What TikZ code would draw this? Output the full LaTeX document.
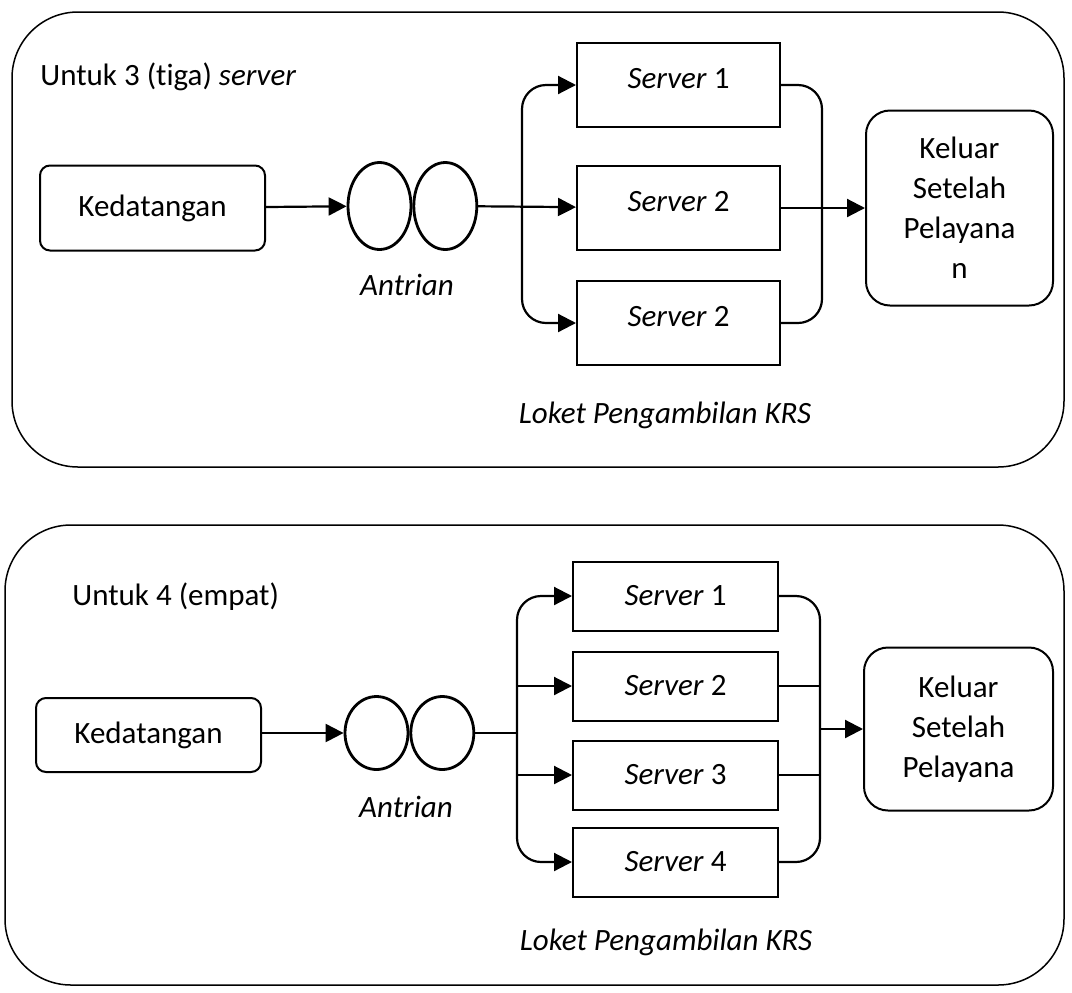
\documentclass[tikz,border=0pt]{standalone}
\usepackage{fontspec}
\setmainfont{Carlito}[Ligatures=NoCommon]
\usetikzlibrary{arrows.meta,positioning,shapes.geometric,calc}
\tikzset{
  panel/.style    = {draw, line width=0.75pt, rounded corners=33pt},
  roundbox/.style = {draw, line width=1pt, rounded corners=5pt, align=center,
                     inner sep=0pt, font=\fontsize{15.5}{20}\selectfont},
  outbox/.style   = {roundbox, rounded corners=12pt},
  srvbox/.style   = {draw, line width=1pt, inner sep=0pt,
                     font=\fontsize{15.5}{20}\selectfont},
  queue/.style    = {ellipse, draw, line width=1.4pt, inner sep=0pt,
                     minimum width=31.5pt},
  lbl/.style      = {inner sep=0pt, font=\fontsize{15.5}{20}\selectfont},
  flow/.style     = {-{Triangle[length=9pt,width=9pt]}, line width=1.1pt},
  link/.style     = {line width=1.1pt},
}

\begin{document}
\begin{tikzpicture}[x=0.5pt,y=-0.5pt]
  \useasboundingbox (0,0) rectangle (1072,992);

  % --- three servers ---
  \draw[panel] (12,12) rectangle (1064,467);
  \node[lbl,anchor=west] (t3) at (40,77) {Untuk 3 (tiga) \textit{server}};
  \node[roundbox,minimum width=112.5pt,minimum height=42.5pt] (arr3) at (152.5,208) {Kedatangan};
  \node[queue,minimum height=43.5pt] (qa3) at (379.5,206) {};
  \node[queue,minimum height=43.5pt,right=0pt of qa3] (qb3) {};
  \node[lbl] (ant3) at (407,285) {\textit{Antrian}};
  \node[srvbox,minimum width=101.5pt,minimum height=42pt,text height=10.5pt,text depth=7pt] (s1) at (678.5,85) {\textit{Server} 1};
  \node[srvbox,minimum width=101.5pt,minimum height=42pt,text height=10.5pt,text depth=7pt] (s2) at (678.5,208) {\textit{Server} 2};
  \node[srvbox,minimum width=101.5pt,minimum height=42pt,text height=10.5pt,text depth=7pt] (s3) at (678.5,323) {\textit{Server} 2};
  \node[outbox,minimum width=93.5pt,minimum height=97.5pt] (out3) at (959.5,208) {Keluar\\Setelah\\Pelayana\\n};
  \node[lbl] (loket3) at (665,415) {\textit{Loket Pengambilan KRS}};
  \coordinate (fork3) at (522,208);
  \coordinate (join3) at (822,208);

  \draw[flow] (arr3) -- (qa3);
  \draw[flow] (qb3) -- (s2);
  \draw[flow,rounded corners=12pt] (fork3) |- (s1.west);
  \draw[flow,rounded corners=12pt] (fork3) |- (s3.west);
  \draw[link,rounded corners=12pt] (s1.east) -| (join3) |- (s3.east);
  \draw[flow] (s2) -- (out3);

  % --- four servers ---
  \draw[panel] (5,525) rectangle (1064,985);
  \node[lbl,anchor=west] (t4) at (72,597) {Untuk 4 (empat)};
  \node[roundbox,minimum width=112.5pt,minimum height=37pt] (arr4) at (148.5,735) {Kedatangan};
  \node[queue,minimum height=36.5pt] (qa4) at (376.5,733) {};
  \node[queue,minimum height=36.5pt,right=0pt of qa4] (qb4) {};
  \node[lbl] (ant4) at (406,807) {\textit{Antrian}};
  \node[srvbox,minimum width=102.5pt,minimum height=34.5pt] (b1) at (675.5,596) {\textit{Server} 1};
  \node[srvbox,minimum width=102.5pt,minimum height=34.5pt] (b2) at (675.5,686) {\textit{Server} 2};
  \node[srvbox,minimum width=102.5pt,minimum height=34.5pt] (b3) at (675.5,775) {\textit{Server} 3};
  \node[srvbox,minimum width=102.5pt,minimum height=34.5pt] (b4) at (675.5,862) {\textit{Server} 4};
  \node[outbox,minimum width=94.5pt,minimum height=81.5pt] (out4) at (958.5,729) {Keluar\\Setelah\\Pelayana};
  \node[lbl] (loket4) at (666,942) {\textit{Loket Pengambilan KRS}};
  \coordinate (fork4) at (517,733);
  \coordinate (join4) at (820,729);

  \draw[flow] (arr4.east|-qa4) -- (qa4);
  \draw[link] (qb4) -- (fork4);
  \draw[flow,rounded corners=12pt] (fork4) |- (b1.west);
  \draw[flow,rounded corners=12pt] (fork4) |- (b4.west);
  \draw[flow] (fork4|-b2.west) -- (b2.west);
  \draw[flow] (fork4|-b3.west) -- (b3.west);
  \draw[link,rounded corners=12pt] (b1.east) -| (join4) |- (b4.east);
  \draw[link] (b2.east) -- (join4|-b2.east);
  \draw[link] (b3.east) -- (join4|-b3.east);
  \draw[flow] (join4) -- (out4);
\end{tikzpicture}
\end{document}
